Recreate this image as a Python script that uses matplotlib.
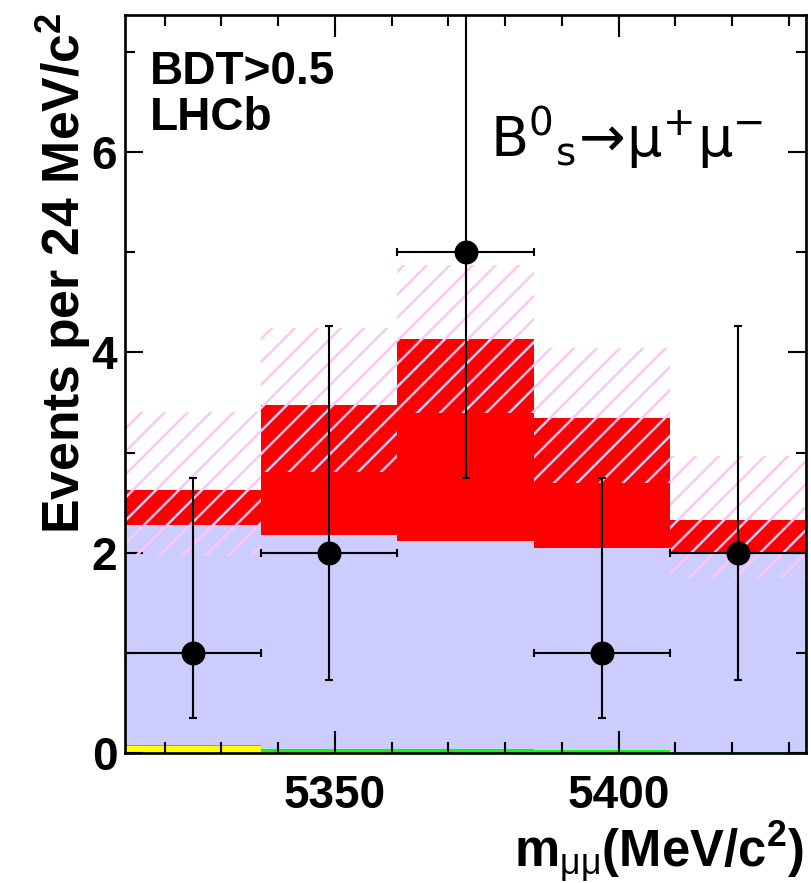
import numpy as np
import matplotlib
matplotlib.use("Agg")
import matplotlib.pyplot as plt
from matplotlib.ticker import MultipleLocator
from matplotlib.collections import LineCollection
from matplotlib.transforms import IdentityTransform

plt.rcParams["font.family"] = ["Liberation Sans", "DejaVu Sans"]
plt.rcParams["mathtext.fontset"] = "custom"
plt.rcParams["mathtext.rm"] = "Liberation Sans"
plt.rcParams["mathtext.bf"] = "Liberation Sans:bold"
plt.rcParams["mathtext.it"] = "Liberation Sans:italic"
plt.rcParams["mathtext.sf"] = "DejaVu Sans"

# Dimuon invariant mass binning (MeV/c^2), 24 MeV bins
bin_edges = [5313, 5337, 5361, 5385, 5409, 5433]

# Stacked expected yields per bin
yield_misid = [0.068, 0.010, 0.000, 0.000, 0.000]      # yellow
yield_bd = [0.010, 0.025, 0.035, 0.025, 0.012]         # green
yield_comb = [2.200, 2.145, 2.085, 2.025, 1.988]       # combinatorial background
yield_signal = [0.350, 1.300, 2.010, 1.300, 0.330]     # Bs -> mu mu signal

# Uncertainty band on the total expectation
band_low = [1.97, 2.81, 3.40, 2.70, 1.75]
band_high = [3.41, 4.24, 4.87, 4.04, 2.97]

# Observed events and asymmetric Poisson intervals
observed = [1, 2, 5, 1, 2]
obs_low = [0.35, 0.73, 2.75, 0.35, 0.73]
obs_high = [2.75, 4.26, 8.60, 2.75, 4.26]

DPI = 138
W, H = 811, 883
fig = plt.figure(figsize=(W / DPI, H / DPI), dpi=DPI)
ax = fig.add_axes([125 / W, 1 - 753 / H, (806 - 125) / W, (753 - 15) / H])

edges = np.array(bin_edges, dtype=float)
layers = [
    (yield_misid, "#ffff00"),
    (yield_bd, "#00ff00"),
    (yield_comb, "#ccccff"),
    (yield_signal, "#ff0000"),
]
base = np.zeros(len(observed))
for vals, col in layers:
    top = base + np.array(vals)
    ax.stairs(top, edges, baseline=base, fill=True, color=col, linewidth=0, zorder=1)
    base = top

# Uncertainty band: invisible region used to clip a diagonal hatch texture
band = ax.stairs(band_high, edges, baseline=band_low, fill=True,
                 facecolor="none", edgecolor="none", linewidth=0, zorder=2)

ax.set_xlim(edges[0], edges[-1])
ax.set_ylim(0, 7.37)

# Diagonal hatch lines in pixel space, 23 px apart
bb = ax.bbox
step = 23.0
offsets = np.arange(bb.x0 - bb.height - step, bb.x1 + step, step)
segs = [[(o, bb.y0), (o + bb.height, bb.y1)] for o in offsets]
hatch = LineCollection(segs, colors="#ffc6f4", linewidths=1.3,
                       transform=IdentityTransform(), zorder=3)
hatch.set_clip_path(band)
ax.add_collection(hatch, autolim=False)

centers = 0.5 * (edges[:-1] + edges[1:])
half_width = 0.5 * np.diff(edges)
obs = np.array(observed, dtype=float)
yerr = [obs - np.array(obs_low), np.array(obs_high) - obs]
ax.errorbar(centers, obs, xerr=half_width, yerr=yerr, fmt="o", color="black",
            markersize=11.5, elinewidth=1.1, capsize=2.2, capthick=1.1, zorder=5)

ax.set_xlim(edges[0], edges[-1])
ax.set_ylim(0, 7.37)

ax.xaxis.set_major_locator(MultipleLocator(50))
ax.xaxis.set_minor_locator(MultipleLocator(10))
ax.yaxis.set_major_locator(MultipleLocator(2))
ax.yaxis.set_minor_locator(MultipleLocator(1))
ax.tick_params(which="both", direction="in", top=True, right=True, width=1.1)
ax.tick_params(axis="x", which="major", length=11.5, pad=11)
ax.tick_params(axis="x", which="minor", length=5.8)
ax.tick_params(axis="y", which="major", length=9.5, pad=4)
ax.tick_params(axis="y", which="minor", length=5)
for lab in ax.get_xticklabels() + ax.get_yticklabels():
    lab.set_fontsize(24)
    lab.set_fontweight("bold")
for sp in ax.spines.values():
    sp.set_linewidth(1.4)
    sp.set_zorder(6)

ax.text((150 - 125) / 681, (753 - 50) / 738, "BDT>0.5\nLHCb", transform=ax.transAxes,
        fontsize=24, fontweight="bold", ha="left", va="top", linespacing=1.05)
ax.text((490 - 125) / 681, (753 - 157) / 738,
        r"$\mathsf{B^{0}{}_{s}\!\rightarrow\!\mu^{+}\mu^{-}}$",
        transform=ax.transAxes, fontsize=29, ha="left", va="baseline")

fig.text(93 / W, 1 - 12 / H, r"Events per 24 MeV/c$^{\mathbf{2}}$",
         rotation=90, fontsize=27, fontweight="bold", ha="right", va="top")
fig.text(804 / W, 1 - 867 / H, r"m$_{\mathrm{\mu\mu}}$(MeV/c$^{\mathbf{2}}$)",
         fontsize=26.5, fontweight="bold", ha="right", va="baseline")

fig.savefig("out.png", dpi=DPI)
